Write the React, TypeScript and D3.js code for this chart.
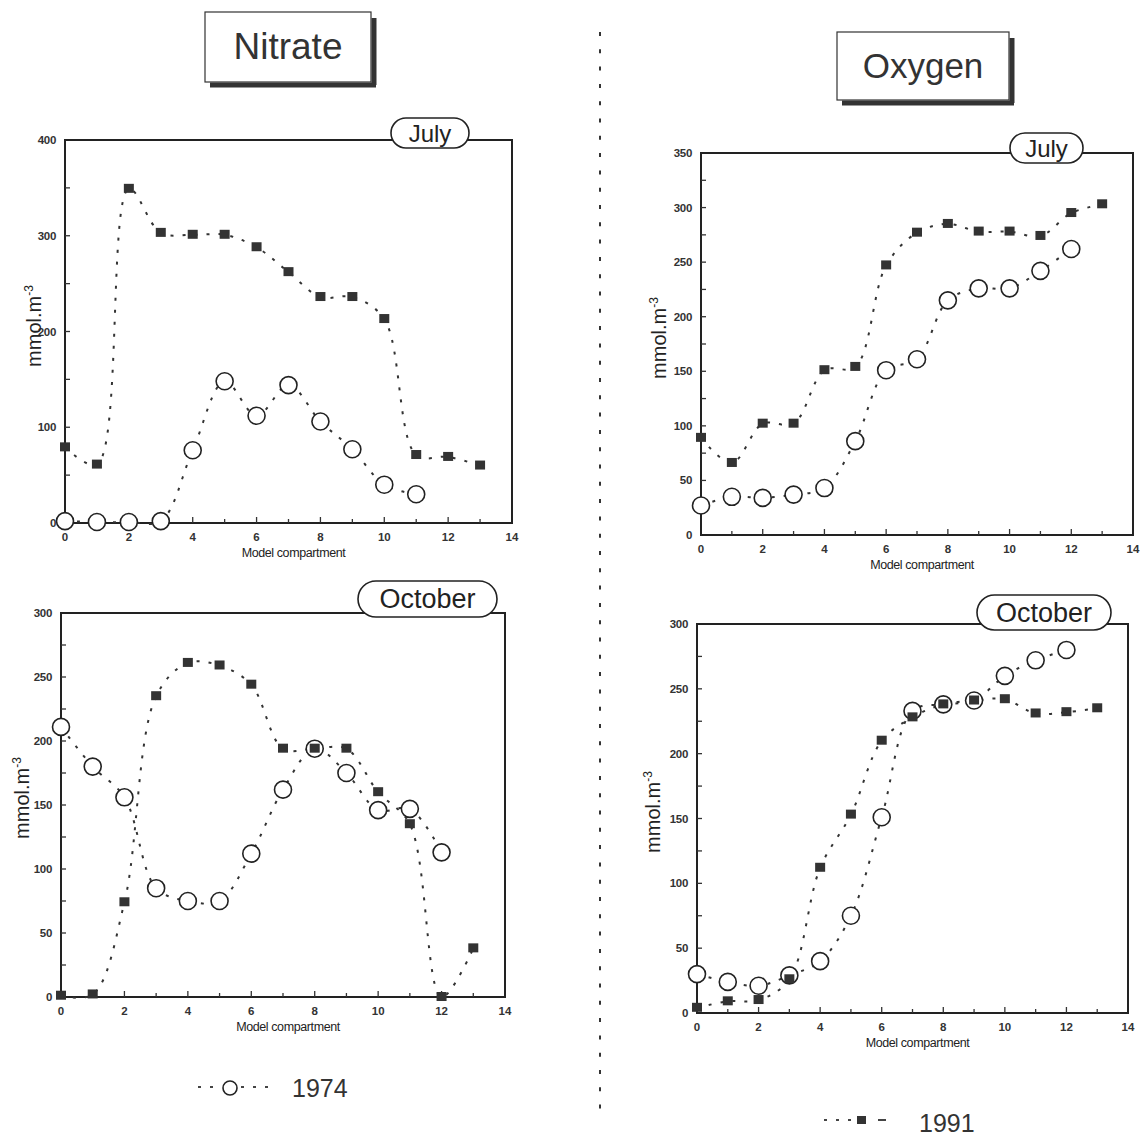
import React from "react";
import * as d3 from "d3";

// Model compartments (x values)
const compartments = [0, 1, 2, 3, 4, 5, 6, 7, 8, 9, 10, 11, 12, 13];
const compartments74 = [0, 1, 2, 3, 4, 5, 6, 7, 8, 9, 10, 11, 12];

// Nitrate, July
const nitrateJuly1991 = [79, 61, 349, 303, 301, 301, 288, 262, 236, 236, 213, 71, 69, 60];
const nitrateJuly1974 = [2, 1, 1, 2, 76, 148, 112, 144, 106, 77, 40, 30];

// Nitrate, October
const nitrateOct1991 = [1, 2, 74, 235, 261, 259, 244, 194, 194, 194, 160, 135, 0, 38];
const nitrateOct1974 = [211, 180, 156, 85, 75, 75, 112, 162, 194, 175, 146, 147, 113];

// Oxygen, July
const oxygenJuly1991 = [89, 66, 102, 102, 151, 154, 247, 277, 285, 278, 278, 274, 295, 303];
const oxygenJuly1974 = [27, 35, 34, 37, 43, 86, 151, 161, 215, 226, 226, 242, 262];

// Oxygen, October
const oxygenOct1991 = [4, 9, 10, 26, 112, 153, 210, 228, 238, 241, 242, 231, 232, 235];
const oxygenOct1974 = [30, 24, 21, 29, 40, 75, 151, 233, 238, 241, 260, 272, 280];

const xTicks = [0, 2, 4, 6, 8, 10, 12, 14];
const nitrateJulyTicks = [0, 100, 200, 300, 400];
const nitrateOctTicks = [0, 50, 100, 150, 200, 250, 300];
const oxygenJulyTicks = [0, 50, 100, 150, 200, 250, 300, 350];
const oxygenOctTicks = [0, 50, 100, 150, 200, 250, 300];

const FONT = "'Liberation Sans', Arial, Helvetica, sans-serif";

type PanelProps = {
  left: number;
  right: number;
  top: number;
  bottom: number;
  yMax: number;
  yTicks: number[];
  yMinor: number;
  s1991: number[];
  s1974: number[];
  month: string;
  monthBox: { x: number; y: number; w: number; h: number };
  yLabelX: number;
  yLabelY: number;
};

const Panel = (p: PanelProps) => {
  const x = d3.scaleLinear().domain([0, 14]).range([p.left, p.right]);
  const y = d3.scaleLinear().domain([0, p.yMax]).range([p.bottom, p.top]);
  const line = d3
    .line<[number, number]>()
    .x((d) => x(d[0]))
    .y((d) => y(d[1]))
    .curve(d3.curveCatmullRom.alpha(0.5));

  const pts1991: [number, number][] = p.s1991.map((v, i) => [compartments[i], v]);
  const pts1974: [number, number][] = p.s1974.map((v, i) => [compartments74[i], v]);
  const minorX = d3.range(1, 14, 1);
  const minorY = d3.range(p.yMinor, p.yMax, p.yMinor);

  return (
    <g>
      {/* frame */}
      <rect
        x={p.left}
        y={p.top}
        width={p.right - p.left}
        height={p.bottom - p.top}
        fill="none"
        stroke="#222"
        strokeWidth={2}
      />
      {/* inward ticks */}
      {minorX.map((t) => (
        <line key={"mx" + t} x1={x(t)} x2={x(t)} y1={p.bottom} y2={p.bottom - (t % 2 === 0 ? 6 : 4)} stroke="#333" strokeWidth={1.3} />
      ))}
      {minorY.map((t) => (
        <line key={"my" + t} x1={p.left} x2={p.left + 5} y1={y(t)} y2={y(t)} stroke="#333" strokeWidth={1.3} />
      ))}
      {xTicks.map((t) => (
        <text key={"xt" + t} x={x(t)} y={p.bottom + 18} textAnchor="middle" fontSize={11.5} fontWeight="bold" fill="#333" fontFamily={FONT}>
          {t}
        </text>
      ))}
      {p.yTicks.map((t) => (
        <text key={"yt" + t} x={p.left - 9} y={y(t) + 4} textAnchor="end" fontSize={11.5} fontWeight="bold" fill="#333" fontFamily={FONT} letterSpacing={-0.3}>
          {t}
        </text>
      ))}
      <text x={(p.left + p.right) / 2 + 5} y={p.bottom + 34} textAnchor="middle" fontSize={12.5} fill="#222" fontFamily={FONT} letterSpacing={-0.4}>
        Model compartment
      </text>
      <text
        transform={`translate(${p.yLabelX},${p.yLabelY}) rotate(-90)`}
        textAnchor="middle"
        fontSize={20}
        fill="#222"
        fontFamily={FONT}
      >
        mmol.m<tspan dy={-8} fontSize={12}>-3</tspan>
      </text>

      {/* series lines */}
      <path d={line(pts1991) || ""} fill="none" stroke="#333" strokeWidth={2} strokeDasharray="3,9" />
      <path d={line(pts1974) || ""} fill="none" stroke="#333" strokeWidth={2} strokeDasharray="3,9" />

      {/* 1974 circles */}
      {pts1974.map((d, i) => (
        <circle key={"c" + i} cx={x(d[0])} cy={y(d[1])} r={8.5} fill="white" stroke="#222" strokeWidth={1.6} />
      ))}
      {/* 1991 squares */}
      {pts1991.map((d, i) => (
        <rect key={"s" + i} x={x(d[0]) - 5} y={y(d[1]) - 5} width={10} height={9} fill="#333" />
      ))}

      {/* month label */}
      <rect
        x={p.monthBox.x}
        y={p.monthBox.y}
        width={p.monthBox.w}
        height={p.monthBox.h}
        rx={p.monthBox.h / 2}
        fill="white"
        stroke="#222"
        strokeWidth={1.6}
      />
      <text
        x={p.monthBox.x + p.monthBox.w / 2}
        y={p.monthBox.y + p.monthBox.h / 2 + 9}
        textAnchor="middle"
        fontSize={p.month === "July" ? 24 : 27}
        fill="#222"
        fontFamily={FONT}
      >
        {p.month}
      </text>
    </g>
  );
};

const TitleBox = ({ x, y, w, h, label, size }: { x: number; y: number; w: number; h: number; label: string; size: number }) => (
  <g>
    <line x1={x + w + 3} x2={x + w + 3} y1={y + 6} y2={y + h + 3} stroke="#333" strokeWidth={5} />
    <line x1={x + 5} x2={x + w + 5} y1={y + h + 3} y2={y + h + 3} stroke="#333" strokeWidth={5} />
    <rect x={x} y={y} width={w} height={h} fill="white" stroke="#333" strokeWidth={1.2} />
    <text x={x + w / 2} y={y + h / 2 + 12} textAnchor="middle" fontSize={size} fill="#333" fontFamily={FONT}>
      {label}
    </text>
  </g>
);

export default function App() {
  const dividerDots = d3.range(32, 1112, 17.3);
  return (
    <svg
      width={1141}
      height={1138}
      style={{ display: "block", position: "absolute", left: 0, top: 0, background: "white" }}
    >
      <rect width={1141} height={1138} fill="white" />

      {/* dotted divider */}
      {dividerDots.map((yy, i) => (
        <line key={i} x1={600} x2={600} y1={yy} y2={yy + 4} stroke="#333" strokeWidth={2} />
      ))}

      <TitleBox x={205} y={12} w={166} h={70} label="Nitrate" size={37} />
      <TitleBox x={837} y={32} w={172} h={68} label="Oxygen" size={35} />

      <Panel
        left={65}
        right={512}
        top={140}
        bottom={523}
        yMax={400}
        yTicks={nitrateJulyTicks}
        yMinor={50}
        s1991={nitrateJuly1991}
        s1974={nitrateJuly1974}
        month="July"
        monthBox={{ x: 391, y: 118, w: 78, h: 30 }}
        yLabelX={41}
        yLabelY={326}
      />
      <Panel
        left={701}
        right={1133}
        top={153}
        bottom={535}
        yMax={350}
        yTicks={oxygenJulyTicks}
        yMinor={25}
        s1991={oxygenJuly1991}
        s1974={oxygenJuly1974}
        month="July"
        monthBox={{ x: 1010, y: 133, w: 73, h: 30 }}
        yLabelX={666}
        yLabelY={338}
      />
      <Panel
        left={61}
        right={505}
        top={613}
        bottom={997}
        yMax={300}
        yTicks={nitrateOctTicks}
        yMinor={25}
        s1991={nitrateOct1991}
        s1974={nitrateOct1974}
        month="October"
        monthBox={{ x: 358, y: 581, w: 139, h: 36 }}
        yLabelX={29}
        yLabelY={798}
      />
      <Panel
        left={697}
        right={1128}
        top={624}
        bottom={1013}
        yMax={300}
        yTicks={oxygenOctTicks}
        yMinor={25}
        s1991={oxygenOct1991}
        s1974={oxygenOct1974}
        month="October"
        monthBox={{ x: 977, y: 595, w: 134, h: 35 }}
        yLabelX={660}
        yLabelY={812}
      />

      {/* legends */}
      <g>
        <line x1={198} x2={222} y1={1087} y2={1087} stroke="#444" strokeWidth={2} strokeDasharray="3,9" />
        <circle cx={230} cy={1088} r={7} fill="white" stroke="#222" strokeWidth={1.6} />
        <line x1={241} x2={277} y1={1087} y2={1087} stroke="#444" strokeWidth={2} strokeDasharray="3,9" />
        <text x={292} y={1097} fontSize={25} fill="#333" fontFamily={FONT}>
          1974
        </text>
      </g>
      <g>
        <line x1={824} x2={856} y1={1120} y2={1120} stroke="#444" strokeWidth={2} strokeDasharray="3,9" />
        <rect x={857} y={1116} width={9} height={8} fill="#333" />
        <line x1={878} x2={886} y1={1120} y2={1120} stroke="#444" strokeWidth={2} />
        <text x={919} y={1132} fontSize={25} fill="#333" fontFamily={FONT}>
          1991
        </text>
      </g>
    </svg>
  );
}
